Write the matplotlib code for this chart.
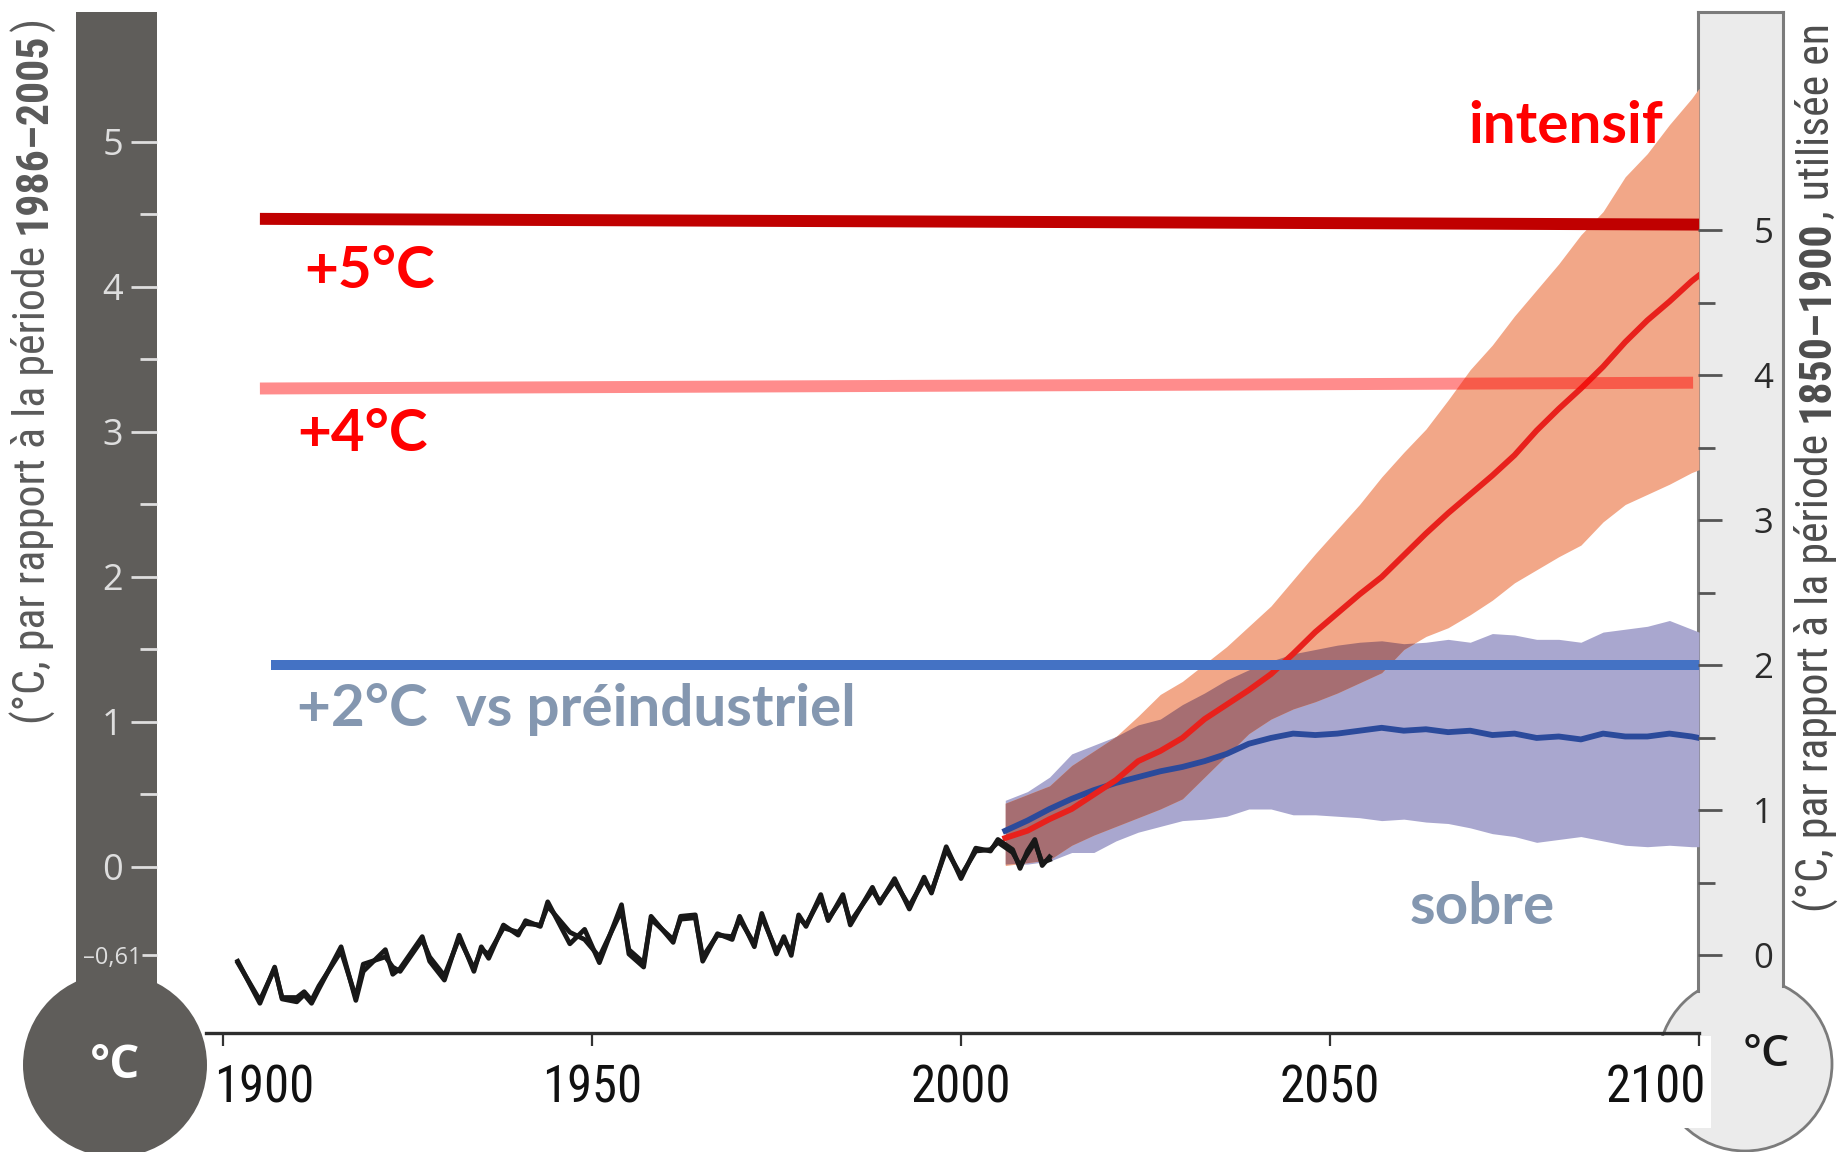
import numpy as np
import matplotlib.pyplot as plt
from matplotlib.patches import Rectangle, Circle
from matplotlib.transforms import ScaledTranslation

W, H, DPI = 1845, 1152, 100

CONDENSED = ['Roboto Condensed', 'Liberation Sans Narrow', 'Roboto', 'DejaVu Sans']
BOLD_SANS = ['Lato', 'DejaVu Sans']
ROUND_SANS = ['Open Sans', 'DejaVu Sans']

# observed global temperature anomalies (°C vs 1986-2005), two datasets
obs_years = [1902, 1905, 1907, 1908, 1910, 1911, 1912, 1913, 1916, 1918,
             1919, 1922, 1923, 1924, 1927, 1928, 1930, 1932, 1934, 1935,
             1936, 1938, 1940, 1941, 1943, 1944, 1947, 1949, 1951, 1954,
             1955, 1957, 1958, 1961, 1962, 1964, 1965, 1967, 1969, 1970,
             1972, 1973, 1975, 1976, 1977, 1978, 1979, 1981, 1982, 1984,
             1985, 1988, 1989, 1991, 1993, 1995, 1996, 1998, 2000, 2002,
             2004, 2005, 2007, 2008, 2009, 2010, 2011, 2012]
obs_a = [-0.65, -0.94, -0.69, -0.91, -0.93, -0.88, -0.94, -0.84, -0.55, -0.92,
         -0.72, -0.57, -0.74, -0.70, -0.48, -0.65, -0.78, -0.47, -0.72, -0.55,
         -0.63, -0.40, -0.47, -0.37, -0.41, -0.24, -0.53, -0.43, -0.66, -0.26,
         -0.60, -0.69, -0.34, -0.52, -0.34, -0.33, -0.65, -0.46, -0.50, -0.34,
         -0.55, -0.32, -0.60, -0.48, -0.61, -0.33, -0.41, -0.19, -0.37, -0.19,
         -0.40, -0.14, -0.25, -0.08, -0.29, -0.07, -0.18, 0.14, -0.08, 0.13,
         0.11, 0.19, 0.12, -0.01, 0.11, 0.19, 0.01, 0.07]
obs_b = [-0.66, -0.92, -0.70, -0.90, -0.90, -0.86, -0.92, -0.82, -0.58, -0.90,
         -0.67, -0.62, -0.69, -0.72, -0.50, -0.62, -0.75, -0.49, -0.70, -0.57,
         -0.60, -0.42, -0.45, -0.39, -0.40, -0.27, -0.45, -0.50, -0.62, -0.30,
         -0.57, -0.66, -0.36, -0.50, -0.36, -0.35, -0.62, -0.47, -0.48, -0.36,
         -0.53, -0.34, -0.58, -0.50, -0.59, -0.35, -0.40, -0.21, -0.36, -0.21,
         -0.38, -0.16, -0.24, -0.10, -0.27, -0.09, -0.17, 0.12, -0.06, 0.11,
         0.12, 0.17, 0.10, 0.01, 0.09, 0.17, 0.03, 0.05]

# model projections: multi-model mean and spread
proj_years = [2006, 2009, 2012, 2015, 2018, 2021, 2024, 2027, 2030, 2033,
              2036, 2039, 2042, 2045, 2048, 2051, 2054, 2057, 2060, 2063,
              2066, 2069, 2072, 2075, 2078, 2081, 2084, 2087, 2090, 2093,
              2096, 2099, 2100]
rcp85_mid = [0.20, 0.25, 0.33, 0.40, 0.50, 0.60, 0.73, 0.80, 0.89, 1.02,
             1.12, 1.22, 1.33, 1.47, 1.62, 1.75, 1.88, 2.00, 2.15, 2.30,
             2.44, 2.57, 2.70, 2.84, 3.01, 3.16, 3.30, 3.45, 3.62, 3.77,
             3.90, 4.04, 4.08]
rcp85_hi = [0.44, 0.50, 0.56, 0.70, 0.80, 0.90, 1.04, 1.19, 1.28, 1.40,
             1.52, 1.66, 1.80, 1.98, 2.16, 2.33, 2.50, 2.69, 2.86, 3.02,
             3.22, 3.43, 3.60, 3.80, 3.98, 4.16, 4.36, 4.52, 4.76, 4.92,
             5.12, 5.30, 5.37]
rcp85_lo = [0.01, 0.03, 0.05, 0.15, 0.22, 0.28, 0.34, 0.40, 0.47, 0.62,
            0.77, 0.92, 1.02, 1.09, 1.14, 1.20, 1.27, 1.34, 1.50, 1.59,
            1.65, 1.74, 1.84, 1.96, 2.05, 2.14, 2.22, 2.38, 2.50, 2.57,
            2.64, 2.72, 2.74]
rcp26_mid = [0.25, 0.32, 0.40, 0.47, 0.53, 0.58, 0.62, 0.66, 0.69, 0.73,
             0.78, 0.85, 0.89, 0.92, 0.91, 0.92, 0.94, 0.96, 0.94, 0.95,
             0.93, 0.94, 0.91, 0.92, 0.89, 0.90, 0.88, 0.92, 0.90, 0.90,
             0.92, 0.90, 0.89]
rcp26_hi = [0.46, 0.52, 0.62, 0.78, 0.84, 0.90, 0.98, 1.02, 1.12, 1.20,
            1.29, 1.36, 1.42, 1.47, 1.50, 1.53, 1.55, 1.56, 1.54, 1.55,
            1.57, 1.55, 1.61, 1.60, 1.57, 1.57, 1.55, 1.62, 1.64, 1.66,
            1.70, 1.64, 1.62]
rcp26_lo = [0.02, 0.02, 0.04, 0.10, 0.10, 0.18, 0.24, 0.28, 0.32, 0.33,
            0.35, 0.40, 0.40, 0.36, 0.36, 0.35, 0.34, 0.32, 0.33, 0.31,
            0.30, 0.27, 0.23, 0.21, 0.17, 0.19, 0.21, 0.18, 0.15, 0.14,
            0.15, 0.14, 0.14]

# warming levels drawn across the chart (left-scale values at each end)
level_labels = ['+5°C', '+4°C', '+2°C  vs préindustriel']
level_start = [1905.0, 1905.0, 1906.5]
level_end = [2102.3, 2099.2, 2101.5]
level_left = [4.47, 3.30, 1.39]
level_right = [4.43, 3.34, 1.39]

# offset between the 1986-2005 and 1850-1900 baselines
PREIND_SHIFT = 0.61

left_ticks = [-0.61, 0, 1, 2, 3, 4, 5]
left_ticklabels = ['–0,61', '0', '1', '2', '3', '4', '5']
right_ticks = [0, 1, 2, 3, 4, 5]
half_ticks = [0.5, 1.5, 2.5, 3.5, 4.5]
year_ticks = [1900, 1950, 2000, 2050, 2100]

# frame geometry in pixels
PX_PER_YEAR = 7.38
PX_PER_DEG = 145.0
ZERO_Y = 867
YEAR0_X = 223
TOP, BOTTOM = 12, 1033
LEFT, RIGHT = 206, 1699

ylim = ((ZERO_Y - BOTTOM) / PX_PER_DEG, (ZERO_Y - TOP) / PX_PER_DEG)
xlim = (1900 + (LEFT - YEAR0_X) / PX_PER_YEAR, 1900 + (RIGHT - YEAR0_X) / PX_PER_YEAR)


def box(x0, y0, x1, y1):
    return [x0 / W, 1 - y1 / H, (x1 - x0) / W, (y1 - y0) / H]


fig = plt.figure(figsize=(W / DPI, H / DPI), dpi=DPI)
renderer = fig.canvas.get_renderer()

# thermometer bodies
deco = fig.add_axes([0, 0, 1, 1], zorder=0)
deco.set_xlim(0, W)
deco.set_ylim(H, 0)
deco.axis('off')

DARK = '#5f5d5a'
deco.add_patch(Circle((115, 1065), 92, fc=DARK, ec='none'))
deco.add_patch(Rectangle((76, 12), 81, 1000, fc=DARK, ec='none'))

LIGHT, EDGE = '#ebebeb', '#7b7b7b'
deco.add_patch(Circle((1745, 1064), 87, fc=LIGHT, ec=EDGE, lw=2))
deco.add_patch(Rectangle((1698, 12), 85, 985, fc=LIGHT, ec='none'))
deco.plot([1698, 1698], [12, 991], color=EDGE, lw=2.2)
deco.plot([1783, 1783], [12, 986], color=EDGE, lw=2.2)
deco.plot([1698, 1783], [12, 12], color=EDGE, lw=2.2)
deco.add_patch(Rectangle((1640, 1036), 71, 92, fc='white', ec='none'))

deco.text(115, 1066, '°C', color='white', fontsize=34, fontweight='bold',
          ha='center', va='center', family=ROUND_SANS)
deco.text(1766, 1054, '°C', color='#1a1a1a', fontsize=32, fontweight='semibold',
          ha='center', va='center', family=ROUND_SANS)

# left scale (1986-2005 baseline) inside the dark tube
axl = fig.add_axes(box(76, TOP, 157, BOTTOM), zorder=3)
axl.set_ylim(ylim)
axl.patch.set_visible(False)
for s in axl.spines.values():
    s.set_visible(False)
axl.set_xticks([])
axl.yaxis.tick_right()
axl.set_yticks(left_ticks, left_ticklabels)
axl.set_yticks(half_ticks, minor=True)
axl.tick_params(axis='y', which='both', direction='in', colors='#dedede',
                width=2, labelsize=26, pad=-32)
axl.tick_params(axis='y', which='major', length=19)
axl.tick_params(axis='y', which='minor', length=12)
for lbl in axl.get_yticklabels():
    lbl.set_ha('center')
    lbl.set_family(ROUND_SANS)
axl.get_yticklabels()[0].set_fontsize(17)
axl.yaxis.get_major_ticks()[0].tick2line.set_markersize(11)

# right scale (1850-1900 baseline) inside the light tube
axr = fig.add_axes(box(1698, TOP, 1783, BOTTOM), zorder=3)
axr.set_ylim(ylim[0] + PREIND_SHIFT, ylim[1] + PREIND_SHIFT)
axr.patch.set_visible(False)
for s in axr.spines.values():
    s.set_visible(False)
axr.set_xticks([])
axr.set_yticks(right_ticks, [str(t) for t in right_ticks])
axr.set_yticks(half_ticks, minor=True)
axr.tick_params(axis='y', which='both', direction='in', colors='#555555',
                width=2, labelsize=25, labelcolor='#2b2b2b', pad=-47)
axr.tick_params(axis='y', which='major', length=17)
axr.tick_params(axis='y', which='minor', length=12)
for lbl in axr.get_yticklabels():
    lbl.set_ha('center')
    lbl.set_family(ROUND_SANS)

# main chart
ax = fig.add_axes(box(LEFT, TOP, RIGHT, BOTTOM), zorder=2)
ax.patch.set_alpha(0)
ax.set_xlim(xlim)
ax.set_ylim(ylim)
for side in ('top', 'left', 'right'):
    ax.spines[side].set_visible(False)
ax.spines['bottom'].set_linewidth(2.4)
ax.spines['bottom'].set_color('#2e2e2e')
ax.set_yticks([])

# year labels sized so that "2000" is about 100 px wide
probe = fig.text(0, 0, '2000', fontsize=36, family=CONDENSED)
year_size = 36 * 100 / probe.get_window_extent(renderer).width
probe.remove()

ax.set_xticks(year_ticks, [str(y) for y in year_ticks])
ax.tick_params(axis='x', direction='out', length=9, width=1.6, color='#333333',
               labelsize=year_size, labelcolor='#111111', pad=13)
xlbls = ax.get_xticklabels()
for lbl in xlbls:
    lbl.set_family(CONDENSED)
xlbls[0].set_transform(xlbls[0].get_transform() + ScaledTranslation(0.41, 0, fig.dpi_scale_trans))
xlbls[-1].set_transform(xlbls[-1].get_transform() + ScaledTranslation(-0.43, 0, fig.dpi_scale_trans))

yrs = np.array(proj_years)
lo85, hi85 = np.array(rcp85_lo), np.array(rcp85_hi)
lo26, hi26 = np.array(rcp26_lo), np.array(rcp26_hi)
ax.fill_between(yrs, lo26, hi26, color='#a9a7cf', lw=0, zorder=1)
ax.fill_between(yrs, lo85, hi85, color='#f2a788', lw=0, zorder=2)
both_lo = np.maximum(lo85, lo26)
both_hi = np.minimum(hi85, hi26)
ax.fill_between(yrs, both_lo, both_hi, where=both_hi > both_lo, interpolate=True,
                color='#a66e72', lw=0, zorder=3)
ax.plot(yrs, rcp26_mid, color='#2b4a9b', lw=4.2, zorder=4)
ax.plot(yrs, rcp85_mid, color='#e8211c', lw=4.2, zorder=5)

ax.plot(obs_years, obs_b, color='#181818', lw=3.4, zorder=6)
ax.plot(obs_years, obs_a, color='#181818', lw=3.4, zorder=6)

level_styles = [dict(color='#c00000', lw=8.6),
                dict(color='#ff0000', alpha=0.45, lw=8.6),
                dict(color='#4472c4', lw=7.2)]
for x0, x1, y0, y1, st in zip(level_start, level_end, level_left, level_right, level_styles):
    ax.plot([x0, x1], [y0, y1], solid_capstyle='butt', zorder=7, **st)

label_kw = dict(fontsize=42, fontweight='bold', family=BOLD_SANS, ha='left',
                va='baseline', zorder=8)
ax.text(1911.0, 3.99, level_labels[0], color='#ff0000', **label_kw)
ax.text(1910.0, 2.87, level_labels[1], color='#ff0000', **label_kw)
ax.text(1910.0, 0.97, level_labels[2], color='#8497b0', **label_kw)
ax.text(2068.8, 4.99, 'intensif', color='#ff0000', **label_kw)
ax.text(2060.8, -0.39, 'sobre', color='#8497b0', **label_kw)


# rotated scale captions, with the baseline period in bold
def vertical_caption(x_px, y_px, runs, size, color):
    y = y_px
    made = []
    for text, weight, gap in runs:
        y -= gap * size * DPI / 72
        t = fig.text(x_px / W, 1 - y / H, text, rotation=90, rotation_mode='anchor',
                     ha='left', va='baseline', fontsize=size, fontweight=weight,
                     color=color, family=CONDENSED)
        made.append(t)
        y = H - t.get_window_extent(renderer).y1
    return made, y_px - y


left_runs = [('(°C, par rapport à la période', 'normal', 0),
             ('1986–2005', 'bold', 0.27),
             (')', 'normal', 0.03)]
right_runs = [('(°C, par rapport à la période', 'normal', 0),
              ('1850–1900', 'bold', 0.27),
              (', utilisée en', 'normal', 0.03)]

# scale the caption so it runs from y=724 up to y=18
trial, length = vertical_caption(46, 724, left_runs, 26, '#5a5a5a')
for t in trial:
    t.remove()
cap_size = 26 * 706 / length
vertical_caption(46, 724, left_runs, cap_size, '#5a5a5a')
vertical_caption(1829, 912, right_runs, cap_size, '#4d4d4d')

fig.savefig('out.png', dpi=DPI)
